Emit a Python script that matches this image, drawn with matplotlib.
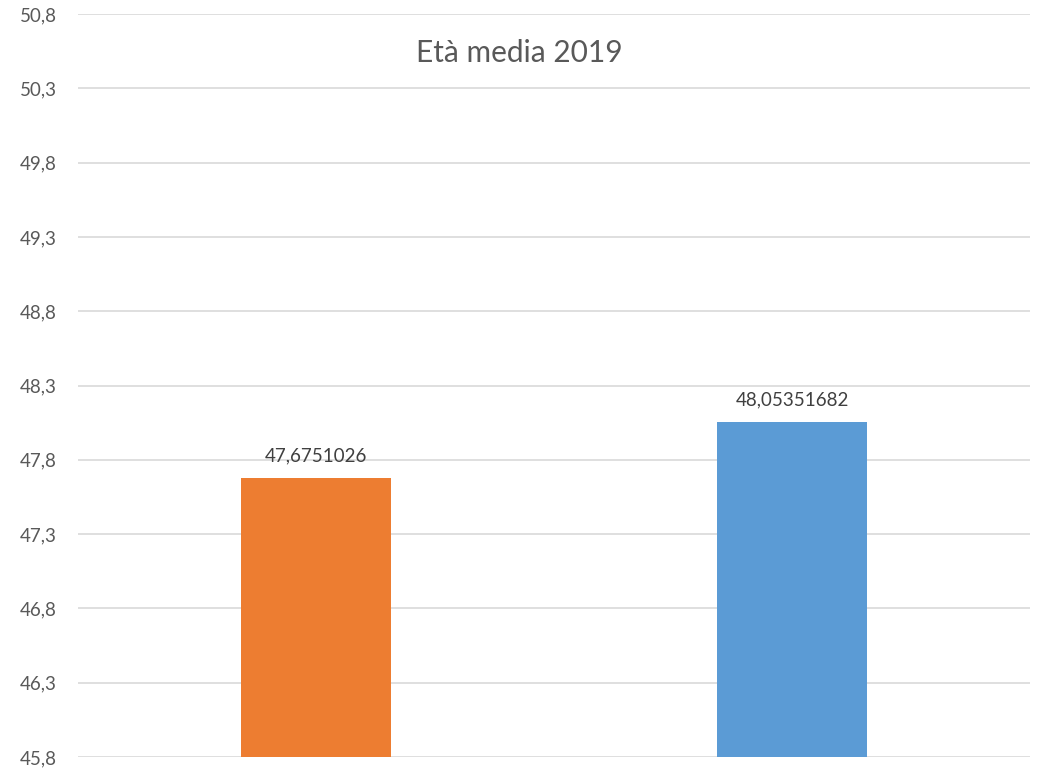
import matplotlib.pyplot as plt
from matplotlib.ticker import FixedLocator

plt.rcParams['font.family'] = ['Lato', 'DejaVu Sans']

# Età media per gruppo
categorie = ['A', 'B']
valori = [47.6751026, 48.05351682]
etichette = ['47,6751026', '48,05351682']
colori = ['#ED7D31', '#5B9BD5']
tick_y = [45.8, 46.3, 46.8, 47.3, 47.8, 48.3, 48.8, 49.3, 49.8, 50.3, 50.8]

fig = plt.figure(figsize=(10.38, 7.71), dpi=100)
ax = fig.add_axes([0.0751, 0.0182, 0.9172, 0.9636])

x = range(len(categorie))
ax.bar(x, [v - tick_y[0] for v in valori], bottom=tick_y[0], width=0.315,
       color=colori, zorder=3)

for xi, v, lab in zip(x, valori, etichette):
    ax.annotate(lab, (xi, v), xytext=(0, 10), textcoords='offset points',
                ha='center', va='bottom', fontsize=13.5, color='#404040')

ax.set_xlim(-0.5, 1.5)
ax.set_ylim(tick_y[0], tick_y[-1])
ax.yaxis.set_major_locator(FixedLocator(tick_y))
ax.set_yticklabels([f'{t:.1f}'.replace('.', ',') for t in tick_y])
ax.set_xticks([])
ax.tick_params(axis='y', length=0, pad=15, labelsize=13.5, labelcolor='#595959')
ax.grid(axis='y', color='#D9D9D9', linewidth=1.2, zorder=0)
for s in ax.spines.values():
    s.set_visible(False)

fig.text(0.5, 1 - 53 / 771, 'Età media 2019', ha='center', va='center',
         fontsize=21.5, color='#595959')

fig.savefig('out.png', dpi=100)
